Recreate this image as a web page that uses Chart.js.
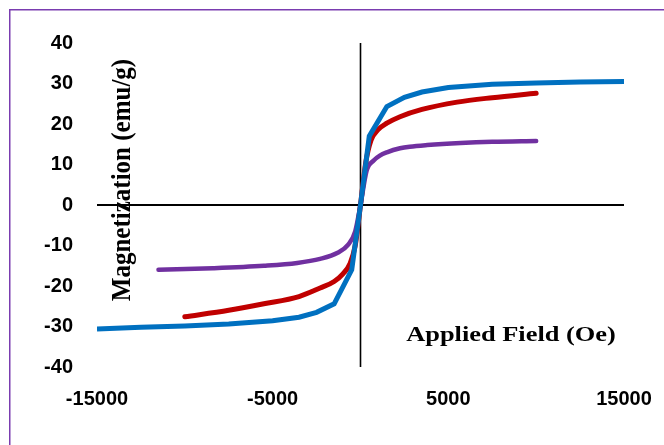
<!DOCTYPE html>
<html>
<head>
<meta charset="utf-8">
<script src="https://cdn.jsdelivr.net/npm/chart.js@4/dist/chart.umd.min.js"></script>
<style>
html,body{margin:0;padding:0;background:#fff;}
canvas{display:block;}
</style>
</head>
<body>
<canvas id="c" width="664" height="445"></canvas>
<script>
// ---- data ----
const blueX = [-15000,-12500,-10000,-7500,-5000,-3500,-2500,-1500,-500,0,500,1500,2500,3500,5000,7500,10000,12500,15000];
const blueY = [-30.6,-30.2,-29.9,-29.4,-28.6,-27.7,-26.5,-24.4,-16.0,0,17.0,24.3,26.6,27.9,29.0,29.8,30.1,30.4,30.5];

const redX = [-10000,-7500,-5500,-3500,-2300,-1500,-1000,-600,-300,0,300,600,1000,1500,2250,3500,5500,7500,10000];
const redY = [-27.6,-26.0,-24.4,-22.6,-20.5,-18.9,-17.0,-14.5,-10.0,0,10.5,16.0,18.6,20.2,21.8,23.6,25.4,26.5,27.6];

const purpleX = [-11500,-8400,-5500,-3600,-2300,-1300,-700,-300,0,350,750,1100,1500,2250,2800,3800,5700,7500,10000];
const purpleY = [-16.0,-15.6,-15.0,-14.3,-13.3,-11.8,-9.8,-6.5,0,8.5,11.0,12.2,13.0,14.0,14.4,14.8,15.3,15.6,15.8];

const xTicks = [-15000,-5000,5000,15000];
const yTitle = 'Magnetization (emu/g)';
const xTitle = 'Applied Field (Oe)';

function pts(xs, ys){ return xs.map((x,i)=>({x:x, y:ys[i]})); }

const tickFont = {family:'"Liberation Sans", Arial, sans-serif', size:20, weight:'bold'};

const decor = {
  id:'decor',
  beforeDraw(chart){
    const ctx = chart.ctx;
    ctx.save();
    ctx.fillStyle = '#fff';
    ctx.fillRect(0,0,chart.width,chart.height);
    ctx.strokeStyle = '#7a3cb0';
    ctx.lineWidth = 1.5;
    ctx.strokeRect(9.75, 9.75, chart.width + 20, chart.height + 20);
    ctx.restore();
  },
  beforeDatasetsDraw(chart){
    const ctx = chart.ctx, xs = chart.scales.x, ys = chart.scales.y, a = chart.chartArea;
    ctx.save();
    ctx.strokeStyle = '#000';
    const y0 = ys.getPixelForValue(0);
    ctx.lineWidth = 2;
    ctx.beginPath(); ctx.moveTo(a.left, y0); ctx.lineTo(a.right, y0); ctx.stroke();
    const x0 = xs.getPixelForValue(0);
    ctx.lineWidth = 1.6;
    ctx.beginPath(); ctx.moveTo(x0, a.top); ctx.lineTo(x0, a.bottom); ctx.stroke();
    ctx.restore();
  },
  afterDatasetsDraw(chart){
    const ctx = chart.ctx;
    ctx.save();
    ctx.fillStyle = '#000';
    ctx.font = 'bold 25px "Liberation Serif", "Times New Roman", serif';
    ctx.translate(130, 180);
    ctx.rotate(-Math.PI/2);
    ctx.scale(1, 1.12);
    ctx.textAlign = 'center';
    ctx.textBaseline = 'alphabetic';
    ctx.fillText(yTitle, 0, 0);
    ctx.restore();
    ctx.save();
    ctx.fillStyle = '#000';
    ctx.font = 'bold 22px "Liberation Serif", "Times New Roman", serif';
    ctx.translate(511, 341);
    ctx.scale(1.2, 1);
    ctx.textAlign = 'center';
    ctx.textBaseline = 'alphabetic';
    ctx.fillText(xTitle, 0, 0);
    ctx.restore();
  }
};

new Chart(document.getElementById('c'), {
  type:'scatter',
  data:{
    datasets:[
      {label:'blue', data:pts(blueX, blueY), showLine:true, borderColor:'#0070C0', backgroundColor:'#0070C0', borderWidth:5, pointRadius:0, tension:0, fill:false},
      {label:'red', data:pts(redX, redY), showLine:true, borderColor:'#C00000', backgroundColor:'#C00000', borderWidth:5, pointRadius:0, cubicInterpolationMode:'monotone', borderCapStyle:'round', fill:false},
      {label:'purple', data:pts(purpleX, purpleY), showLine:true, borderColor:'#7030A0', backgroundColor:'#7030A0', borderWidth:4.5, pointRadius:0, cubicInterpolationMode:'monotone', borderCapStyle:'round', fill:false}
    ]
  },
  options:{
    responsive:false,
    devicePixelRatio:1,
    animation:false,
    layout:{padding:{top:43, right:40, bottom:0, left:0}},
    plugins:{legend:{display:false}, tooltip:{enabled:false}},
    scales:{
      x:{
        type:'linear', min:-15000, max:15000,
        afterBuildTicks(s){ s.ticks = xTicks.map(v=>({value:v})); },
        afterFit(s){ s.height = 78; s.paddingLeft = 0; s.paddingRight = 0; },
        grid:{display:false, drawTicks:false},
        border:{display:false},
        ticks:{font:tickFont, color:'#000', padding:20, maxRotation:0, minRotation:0, autoSkip:false, callback:v=>String(v)}
      },
      y:{
        type:'linear', min:-40, max:40,
        afterFit(s){ s.width = 97; s.paddingTop = 0; s.paddingBottom = 0; },
        grid:{display:false, drawTicks:false},
        border:{display:false},
        ticks:{font:tickFont, color:'#000', padding:24, stepSize:10, callback:v=>String(v)}
      }
    }
  },
  plugins:[decor]
});
</script>
</body>
</html>
